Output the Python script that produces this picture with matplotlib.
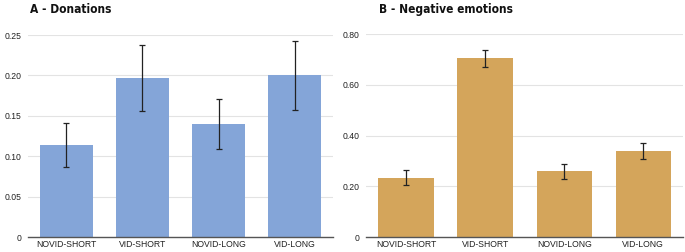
import matplotlib
matplotlib.use("Agg")
import matplotlib.pyplot as plt
from matplotlib.ticker import FuncFormatter

categories = ["NOVID-SHORT", "VID-SHORT", "NOVID-LONG", "VID-LONG"]

donations = [0.114, 0.197, 0.140, 0.200]
donations_err = [0.027, 0.041, 0.031, 0.043]

neg_emotions = [0.234, 0.705, 0.259, 0.339]
neg_emotions_err = [0.030, 0.033, 0.030, 0.033]

titles = ["A - Donations", "B - Negative emotions"]
yticks_a = [0, 0.05, 0.10, 0.15, 0.20, 0.25]
yticks_b = [0, 0.20, 0.40, 0.60, 0.80]

plt.rcParams['font.family'] = ['Liberation Sans', 'DejaVu Sans']

fig = plt.figure(figsize=(6.85, 2.52), dpi=100)
axA = fig.add_axes([0.041, 0.0595, 0.445, 0.8015])
axB = fig.add_axes([0.535, 0.0595, 0.462, 0.8045])

def style(ax, vals, errs, color, yticks, fmt, width):
    x = range(len(categories))
    ax.bar(x, vals, width=width, color=color, zorder=2)
    ax.errorbar(x, vals, yerr=errs, fmt='none', ecolor='#222222',
                elinewidth=0.9, capsize=2.2, capthick=0.9, zorder=3)
    ax.set_xlim(-0.5, len(categories) - 0.5)
    ax.set_ylim(yticks[0], yticks[-1])
    ax.set_yticks(yticks)
    ax.yaxis.set_major_formatter(FuncFormatter(lambda v, p: "0" if v == 0 else fmt.format(v)))
    ax.set_xticks(list(x))
    ax.set_xticklabels(categories)
    ax.tick_params(axis='both', length=0, labelsize=6.2, colors='#222222', pad=2)
    ax.tick_params(axis='y', pad=5)
    ax.grid(axis='y', color='#e3e3e3', linewidth=0.8, zorder=0)
    ax.set_axisbelow(True)
    for s in ['top', 'right', 'left']:
        ax.spines[s].set_visible(False)
    ax.spines['bottom'].set_color('#555555')
    ax.spines['bottom'].set_linewidth(1.0)
    ax.spines['bottom'].set_zorder(4)

style(axA, donations, donations_err, '#84a5d8', yticks_a, "{:.2f}", 0.70)
style(axB, neg_emotions, neg_emotions_err, '#d4a55b', yticks_b, "{:.2f}", 0.70)

title_font = dict(family=['DejaVu Sans', 'Liberation Sans'], stretch='condensed',
                  weight='bold', fontsize=8.6, color='#111111')
fig.text(30 / 685, 1 - 3 / 252, titles[0], ha='left', va='top', **title_font)
fig.text(379 / 685, 1 - 3 / 252, titles[1], ha='left', va='top', **title_font)

fig.savefig("out.png", dpi=100)
